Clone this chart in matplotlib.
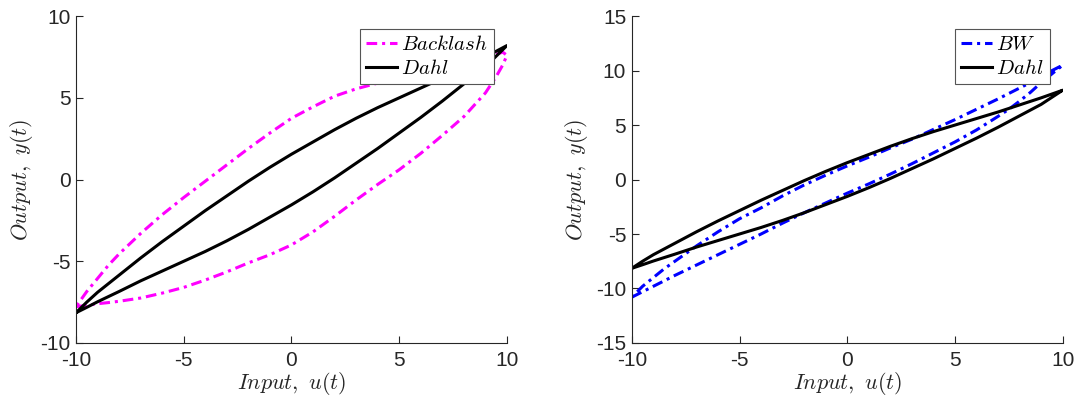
import numpy as np
import matplotlib
matplotlib.use("Agg")
import matplotlib.pyplot as plt

plt.rcParams['font.family'] = ['Liberation Sans', 'DejaVu Sans']
plt.rcParams['mathtext.fontset'] = 'cm'
plt.rcParams['axes.unicode_minus'] = False

# Dahl loop (same on both panels)
dahl_x = [-10, -9.5, -9, -8, -7, -6, -5, -4, -3, -2, -1, 0,
          1, 2, 3, 4, 5, 6, 7, 8, 9, 9.5, 10]
dahl_up = [-8.15, -7.5, -6.9, -5.85, -4.8, -3.8, -2.85, -1.9, -1.0, -0.1, 0.75, 1.55,
           2.3, 3.05, 3.75, 4.4, 5.0, 5.6, 6.2, 6.85, 7.5, 7.85, 8.2]
dahl_lo = [-8.15, -7.82, -7.48, -6.85, -6.2, -5.6, -5.0, -4.4, -3.75, -3.05, -2.3, -1.55,
           -0.75, 0.1, 1.0, 1.9, 2.85, 3.8, 4.8, 5.85, 6.9, 7.55, 8.2]

# Backlash loop
bl_x = [-10, -9.5, -9, -8.5, -8, -7, -6, -5, -4, -3, -2, -1, 0,
        1, 2, 3, 4, 5, 6, 7, 8, 9, 9.5, 9.8, 10]
bl_up = [-7.78, -6.85, -6.05, -5.25, -4.55, -3.3, -2.15, -1.1, -0.1, 0.9, 1.9, 2.85, 3.75,
         4.45, 5.1, 5.55, 5.9, 6.2, 6.45, 6.75, 7.05, 7.4, 7.65, 7.8, 7.6]
bl_lo = [-7.78, -7.7, -7.6, -7.53, -7.45, -7.25, -6.95, -6.6, -6.15, -5.65, -5.1, -4.6, -4.0,
         -3.2, -2.25, -1.25, -0.3, 0.6, 1.6, 2.7, 3.85, 5.3, 6.3, 7.0, 7.6]

# Bouc-Wen loop
bw_x = [-10, -9.5, -9, -8.5, -8, -7, -6, -5, -4, -3, -2, -1, 0,
        1, 2, 3, 4, 5, 6, 7, 7.5, 8, 8.5, 9, 9.5, 10]
bw_up = [-10.8, -9.8, -9.0, -8.2, -7.5, -6.1, -4.8, -3.6, -2.6, -1.5, -0.5, 0.4, 1.25,
         2.05, 2.9, 3.7, 4.6, 5.5, 6.45, 7.4, 7.9, 8.4, 8.9, 9.45, 10.0, 10.5]
bw_lo = [-10.8, -10.3, -9.8, -9.3, -8.8, -7.85, -6.9, -5.95, -5.0, -4.0, -3.05, -2.15, -1.25,
         -0.4, 0.5, 1.45, 2.45, 3.45, 4.55, 5.8, 6.45, 7.2, 8.0, 8.9, 9.7, 10.5]


def loop(x, up, lo):
    # go along the lower branch, come back along the upper one
    xx = list(x) + list(x[::-1])
    yy = list(lo) + list(up[::-1])
    return xx, yy


dashdot = (0, (3.5, 1.6, 1, 1.6))
axcol = '#262626'
lw = 2.2

fig = plt.figure(figsize=(10.8, 4.03), dpi=100)
ax1 = fig.add_axes([0.0704, 0.149, 0.399, 0.811])
ax2 = fig.add_axes([0.585, 0.149, 0.399, 0.811])

xx, yy = loop(bl_x, bl_up, bl_lo)
ax1.plot(xx, yy, color='#FF00FF', lw=lw, linestyle=dashdot, label='$Backlash$')
xx, yy = loop(dahl_x, dahl_up, dahl_lo)
ax1.plot(xx, yy, color='black', lw=lw, label='$Dahl$')

xx, yy = loop(bw_x, bw_up, bw_lo)
ax2.plot(xx, yy, color='#0000FF', lw=lw, linestyle=dashdot, label='$BW$')
xx, yy = loop(dahl_x, dahl_up, dahl_lo)
ax2.plot(xx, yy, color='black', lw=lw, label='$Dahl$')

for ax, ylim, yt in [(ax1, (-10, 10), [-10, -5, 0, 5, 10]),
                     (ax2, (-15, 15), [-15, -10, -5, 0, 5, 10, 15])]:
    ax.set_xlim(-10, 10)
    ax.set_ylim(*ylim)
    ax.set_xticks([-10, -5, 0, 5, 10])
    ax.set_yticks(yt)
    ax.spines['top'].set_visible(False)
    ax.spines['right'].set_visible(False)
    for s in ['left', 'bottom']:
        ax.spines[s].set_color(axcol)
        ax.spines[s].set_linewidth(0.8)
    ax.tick_params(direction='in', length=5, width=0.8, colors=axcol,
                   labelsize=15, pad=4)
    ax.tick_params(axis='x', pad=6)
    ax.set_xlabel('$Input,\\ u(t)$', fontsize=16, color=axcol, labelpad=0)
    ax.set_ylabel('$Output,\\ y(t)$', fontsize=16, color=axcol, labelpad=4)
    leg = ax.legend(loc='upper right', fontsize=15, handlelength=1.5,
                    handletextpad=0.2, borderpad=0.3, labelspacing=0.25,
                    borderaxespad=0.6, fancybox=False, framealpha=1)
    leg.get_frame().set_edgecolor('#555555')
    leg.get_frame().set_linewidth(0.8)

plt.savefig("out.png", dpi=100)
